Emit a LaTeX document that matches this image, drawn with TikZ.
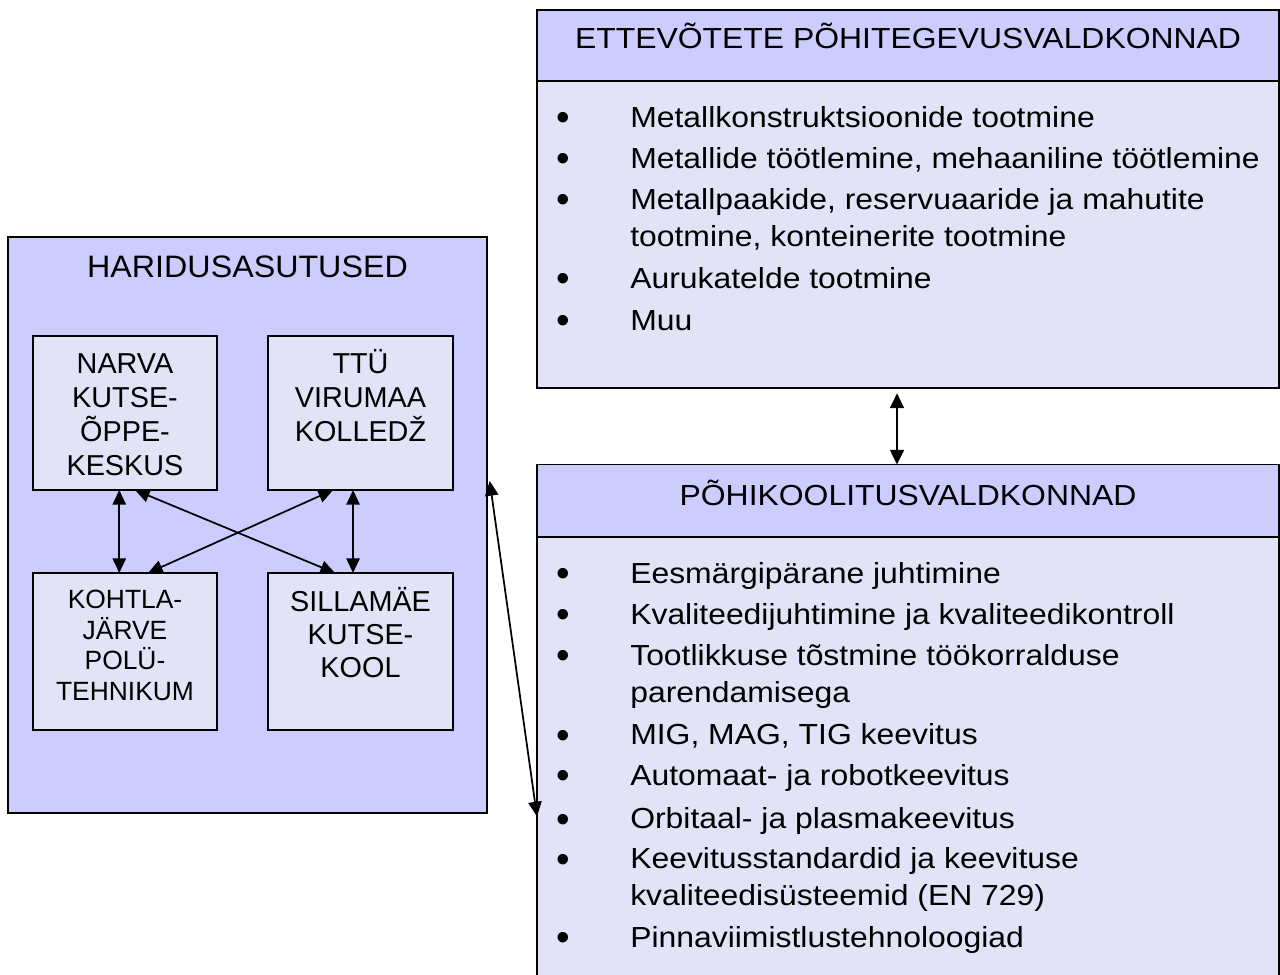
\documentclass[tikz,border=0pt]{standalone}
\usepackage{fontspec}
\setmainfont{Liberation Sans}
\newfontfamily\rfont[FakeStretch=1.1]{Liberation Sans}
\newfontfamily\tfont[FakeStretch=1.04]{Liberation Sans}
\usetikzlibrary{arrows.meta}
\definecolor{hdr}{RGB}{204,204,255}
\definecolor{bdy}{RGB}{227,227,248}
\begin{document}
\begin{tikzpicture}[x=0.75pt,y=-0.75pt,
  box/.style={draw=black, line width=1.3pt, rectangle, inner sep=0pt, outer sep=0pt, anchor=north west},
  ctxt/.style={inner sep=0pt, anchor=base},
  ltxt/.style={inner sep=0pt, anchor=base west, font=\rfont\fontsize{21.75}{26}\selectfont},
  bul/.style={inner sep=0pt, anchor=base west, yshift=-2.4pt, font=\fontsize{29}{30}\selectfont},
  rtitle/.style={inner sep=0pt, anchor=base, font=\rfont\fontsize{21.75}{26}\selectfont},
  itxt/.style={inner sep=0pt, anchor=base, font=\fontsize{21.6}{25}\selectfont},
  ktxt/.style={inner sep=0pt, anchor=base, font=\fontsize{19.8}{23}\selectfont},
  conn/.style={line width=1.3pt, {Triangle[length=11pt,width=10pt]}-{Triangle[length=11pt,width=10pt]}},
  thin/.style={line width=1.1pt, {Triangle[length=11pt,width=10.5pt]}-{Triangle[length=11pt,width=10.5pt]}}]
\useasboundingbox (0,0) rectangle (1280,974);
\clip (0,0) rectangle (1280,974);
\fill[white] (0,0) rectangle (1280,974);

% left group
\node[box, fill=hdr, minimum width=359.25pt, minimum height=432pt] (L) at (8,237) {};
\node[ctxt, font=\tfont\fontsize{23.25}{28}\selectfont] (Ltitle) at (247.5,277.5) {HARIDUSASUTUSED};
\node[box, fill=bdy, minimum width=138pt, minimum height=115.5pt] (narva) at (33,336) {};
\node[box, fill=bdy, minimum width=138.75pt, minimum height=115.5pt] (ttu) at (268,336) {};
\node[box, fill=bdy, minimum width=138pt, minimum height=117.75pt] (kohtla) at (33,573) {};
\node[box, fill=bdy, minimum width=138.75pt, minimum height=117.75pt] (sill) at (268,573) {};

\foreach \t [count=\i] in {NARVA, KUTSE-, ÕPPE-, KESKUS}
  \node[itxt] (narva\i) at (125,{373.5+34*(\i-1)}) {\t};
\foreach \t [count=\i] in {TTÜ, VIRUMAA, KOLLEDŽ}
  \node[itxt] (ttu\i) at (360.5,{373.5+34*(\i-1)}) {\t};
\foreach \t [count=\i] in {KOHTLA-, JÄRVE, POLÜ-, TEHNIKUM}
  \node[ktxt] (kohtla\i) at (125,{608.5+30.5*(\i-1)}) {\t};
\foreach \t [count=\i] in {SILLAMÄE, KUTSE-, KOOL}
  \node[itxt] (sill\i) at (360.5,{611.5+33*(\i-1)}) {\t};

\draw[conn] ([xshift=-4.3pt]narva.south) -- ([xshift=-4.3pt]kohtla.north);
\draw[conn] ([xshift=-5.6pt]ttu.south) -- ([xshift=-5.6pt]sill.north);
\draw[conn] ([xshift=7.5pt]narva.south) -- ([xshift=-19.1pt]sill.north);
\draw[conn] ([xshift=-20.6pt]ttu.south) -- ([xshift=17.25pt]kohtla.north);

% top right box
\node[box, fill=hdr, minimum width=556.5pt, minimum height=53pt] (TH) at (537,10) {};
\node[box, fill=bdy, minimum width=556.5pt, minimum height=230.5pt] (TB) at (537,80.7) {};
\node[rtitle] (THt) at (908,48.5) {ETTEVÕTETE PÕHITEGEVUSVALDKONNAD};
\foreach \y/\t [count=\i] in {127.5/Metallkonstruktsioonide tootmine,
   168.5/{Metallide töötlemine, mehaaniline töötlemine},
   209.5/{Metallpaakide, reservuaaride ja mahutite},
   288.5/Aurukatelde tootmine,
   330.5/Muu}
 {\node[bul] (tb\i) at (556,\y) {•};
  \node[ltxt] (tt\i) at (630,\y) {\t};}
\node[ltxt] (tt3b) at (630,246.5) {tootmine, konteinerite tootmine};

% bottom right box
\node[box, fill=hdr, minimum width=556.5pt, minimum height=54.4pt] (BH) at (537,464.5) {};
\node[box, fill=bdy, minimum width=556.5pt, minimum height=345pt] (BB) at (537,537) {};
\node[rtitle] (BHt) at (908,505) {PÕHIKOOLITUSVALDKONNAD};
\foreach \y/\t [count=\i] in {583.5/Eesmärgipärane juhtimine,
   624.5/Kvaliteedijuhtimine ja kvaliteedikontroll,
   665.5/Tootlikkuse tõstmine töökorralduse,
   744.8/{MIG, MAG, TIG keevitus},
   785.5/Automaat- ja robotkeevitus,
   828.8/Orbitaal- ja plasmakeevitus,
   868.8/Keevitusstandardid ja keevituse,
   947.2/Pinnaviimistlustehnoloogiad}
 {\node[bul] (bb\i) at (556,\y) {•};
  \node[ltxt] (bt\i) at (630,\y) {\t};}
\node[ltxt] (bt3b) at (630,702.5) {parendamisega};
\node[ltxt] (bt7b) at (630,905.8) {kvaliteedisüsteemid (EN 729)};

% connectors between groups
\draw[thin] ([xshift=-8.25pt,yshift=-4pt]TB.south) -- ([xshift=-8.25pt]BH.north);
\draw[conn] ([xshift=2pt,yshift=33pt]L.east) -- ([yshift=-37.1pt]BB.west);
\end{tikzpicture}
\end{document}
